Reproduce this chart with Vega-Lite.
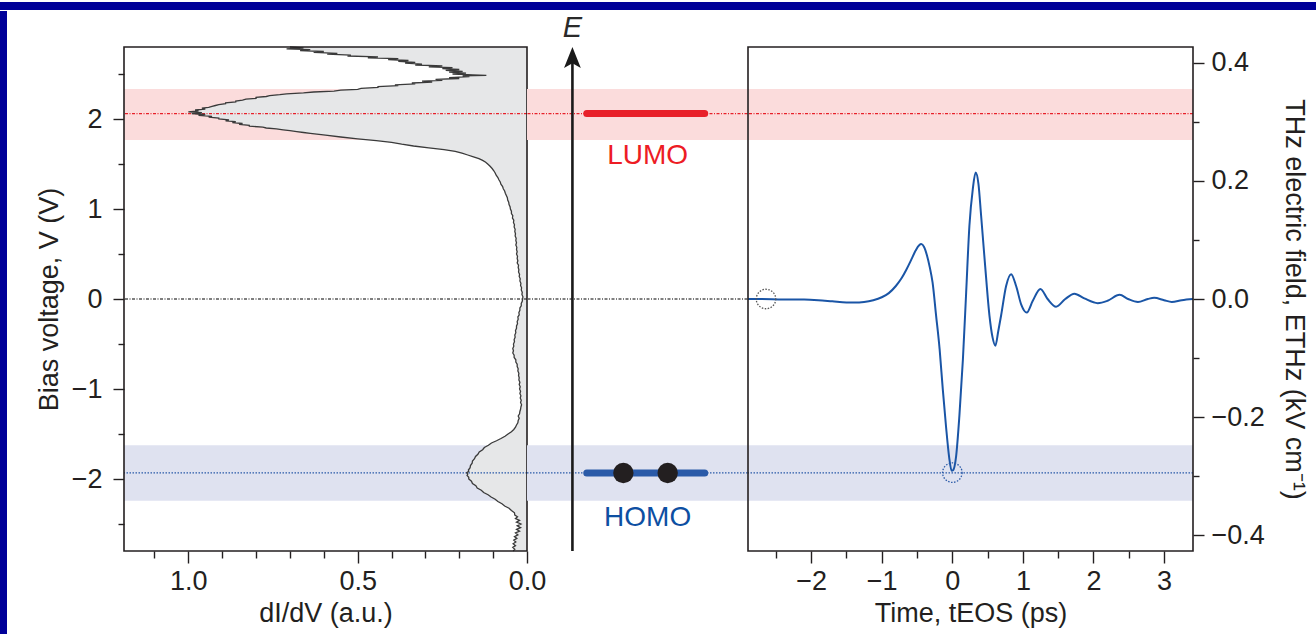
{
  "$schema": "https://vega.github.io/schema/vega-lite/v6.json",
  "background": "white",
  "padding": 0,
  "spacing": 0,
  "config": {
    "font": "Liberation Sans",
    "view": {"stroke": null},
    "axis": {
      "labelFont": "Liberation Sans", "titleFont": "Liberation Sans",
      "labelFontSize": 27, "titleFontSize": 27,
      "labelColor": "#231f20", "titleColor": "#231f20", "tickColor": "#231f20",
      "tickWidth": 1.4, "domain": false, "grid": false, "titleFontWeight": "normal",
      "labelFlush": false, "labelOverlap": false
    }
  },
  "datasets": {
    "bands": [
      {"level": "LUMO", "V": 1.767, "V2": 2.333},
      {"level": "HOMO", "V": -2.241, "V2": -1.626}
    ],
    "lines": [
      {"level": "LUMO", "V": 2.06},
      {"level": "HOMO", "V": -1.933},
      {"level": "zero", "V": 0}
    ],
    "states": [
      {"level": "LUMO", "V": 2.06, "start": 0.271, "end": 0.806, "label": "LUMO", "labelV": 1.585, "labelX": 0.547},
      {"level": "HOMO", "V": -1.933, "start": 0.271, "end": 0.806, "label": "HOMO", "labelV": -2.433, "labelX": 0.547}
    ],
    "electrons": [
      {"x": 0.437, "V": -1.933},
      {"x": 0.638, "V": -1.933}
    ],
    "energyAxis": [
      {"x": 0.206, "from": -2.8, "to": 2.63, "head": 2.683, "label": "E", "labelV": 2.83}
    ],
    "markers": [
      {"kind": "zero", "t": -2.64, "E": 0},
      {"kind": "HOMO", "t": 0, "E": -0.294}
    ],
    "spectrum": [
      {"V":2.800,"d":0.70},{"V":2.790,"d":0.66},{"V":2.780,"d":0.71},{"V":2.770,"d":0.64},{"V":2.760,"d":0.67},
      {"V":2.750,"d":0.60},{"V":2.740,"d":0.63},{"V":2.730,"d":0.56},{"V":2.720,"d":0.59},{"V":2.710,"d":0.52},
      {"V":2.700,"d":0.53},{"V":2.690,"d":0.44},{"V":2.680,"d":0.47},{"V":2.670,"d":0.38},{"V":2.660,"d":0.41},
      {"V":2.650,"d":0.35},{"V":2.640,"d":0.38},{"V":2.630,"d":0.33},{"V":2.620,"d":0.36},{"V":2.610,"d":0.31},
      {"V":2.600,"d":0.33},{"V":2.590,"d":0.25},{"V":2.580,"d":0.29},{"V":2.570,"d":0.22},{"V":2.560,"d":0.25},
      {"V":2.550,"d":0.20},{"V":2.540,"d":0.24},{"V":2.530,"d":0.19},{"V":2.520,"d":0.23},{"V":2.510,"d":0.18},
      {"V":2.500,"d":0.22},{"V":2.490,"d":0.16},{"V":2.485,"d":0.12},{"V":2.480,"d":0.19},{"V":2.470,"d":0.17},
      {"V":2.460,"d":0.23},{"V":2.450,"d":0.20},{"V":2.440,"d":0.27},{"V":2.430,"d":0.25},{"V":2.420,"d":0.31},
      {"V":2.410,"d":0.28},{"V":2.400,"d":0.34},{"V":2.390,"d":0.33},{"V":2.380,"d":0.39},{"V":2.370,"d":0.38},
      {"V":2.360,"d":0.44},{"V":2.350,"d":0.44},{"V":2.340,"d":0.49},{"V":2.330,"d":0.50},{"V":2.320,"d":0.55},
      {"V":2.310,"d":0.57},{"V":2.300,"d":0.63},{"V":2.290,"d":0.66},{"V":2.280,"d":0.71},{"V":2.270,"d":0.73},
      {"V":2.260,"d":0.76},{"V":2.250,"d":0.77},{"V":2.240,"d":0.80},{"V":2.230,"d":0.80},{"V":2.220,"d":0.83},
      {"V":2.210,"d":0.84},{"V":2.200,"d":0.86},{"V":2.190,"d":0.86},{"V":2.180,"d":0.89},{"V":2.170,"d":0.89},
      {"V":2.160,"d":0.91},{"V":2.150,"d":0.92},{"V":2.140,"d":0.93},{"V":2.130,"d":0.94},{"V":2.120,"d":0.96},
      {"V":2.110,"d":0.95},{"V":2.100,"d":0.98},{"V":2.090,"d":0.97},{"V":2.080,"d":1.00},{"V":2.070,"d":0.96},
      {"V":2.060,"d":0.99},{"V":2.050,"d":0.95},{"V":2.040,"d":0.97},{"V":2.030,"d":0.93},{"V":2.020,"d":0.94},
      {"V":2.010,"d":0.91},{"V":2.000,"d":0.91},{"V":1.990,"d":0.88},{"V":1.980,"d":0.89},{"V":1.970,"d":0.86},
      {"V":1.960,"d":0.87},{"V":1.950,"d":0.84},{"V":1.940,"d":0.85},{"V":1.930,"d":0.82},{"V":1.920,"d":0.82},
      {"V":1.910,"d":0.78},{"V":1.900,"d":0.77},{"V":1.890,"d":0.74},{"V":1.880,"d":0.72},{"V":1.870,"d":0.70},
      {"V":1.860,"d":0.68},{"V":1.850,"d":0.66},{"V":1.840,"d":0.64},{"V":1.820,"d":0.595},{"V":1.800,"d":0.55},
      {"V":1.780,"d":0.50},{"V":1.760,"d":0.445},{"V":1.740,"d":0.40},{"V":1.720,"d":0.37},{"V":1.700,"d":0.335},
      {"V":1.680,"d":0.29},{"V":1.660,"d":0.245},{"V":1.640,"d":0.212},{"V":1.620,"d":0.192},{"V":1.600,"d":0.175},
      {"V":1.580,"d":0.158},{"V":1.560,"d":0.142},{"V":1.540,"d":0.131},{"V":1.520,"d":0.122},{"V":1.500,"d":0.116},
      {"V":1.475,"d":0.109},{"V":1.450,"d":0.103},{"V":1.425,"d":0.098},{"V":1.400,"d":0.094},{"V":1.375,"d":0.091},
      {"V":1.350,"d":0.086},{"V":1.325,"d":0.083},{"V":1.300,"d":0.079},{"V":1.275,"d":0.077},{"V":1.250,"d":0.072},
      {"V":1.225,"d":0.070},{"V":1.200,"d":0.066},{"V":1.175,"d":0.064},{"V":1.150,"d":0.061},{"V":1.125,"d":0.058},
      {"V":1.100,"d":0.057},{"V":1.075,"d":0.054},{"V":1.050,"d":0.053},{"V":1.025,"d":0.050},{"V":1.000,"d":0.049},
      {"V":0.975,"d":0.046},{"V":0.950,"d":0.046},{"V":0.925,"d":0.042},{"V":0.900,"d":0.043},{"V":0.875,"d":0.039},
      {"V":0.850,"d":0.040},{"V":0.825,"d":0.037},{"V":0.800,"d":0.038},{"V":0.775,"d":0.035},{"V":0.750,"d":0.036},
      {"V":0.725,"d":0.034},{"V":0.700,"d":0.035},{"V":0.675,"d":0.032},{"V":0.650,"d":0.033},{"V":0.625,"d":0.031},
      {"V":0.600,"d":0.033},{"V":0.575,"d":0.030},{"V":0.550,"d":0.031},{"V":0.525,"d":0.029},{"V":0.500,"d":0.031},
      {"V":0.475,"d":0.028},{"V":0.450,"d":0.029},{"V":0.425,"d":0.027},{"V":0.400,"d":0.029},{"V":0.375,"d":0.025},
      {"V":0.350,"d":0.026},{"V":0.325,"d":0.024},{"V":0.300,"d":0.025},{"V":0.275,"d":0.022},{"V":0.250,"d":0.023},
      {"V":0.225,"d":0.020},{"V":0.200,"d":0.021},{"V":0.175,"d":0.018},{"V":0.150,"d":0.019},{"V":0.125,"d":0.016},
      {"V":0.100,"d":0.017},{"V":0.075,"d":0.014},{"V":0.050,"d":0.015},{"V":0.025,"d":0.012},{"V":0.000,"d":0.013},
      {"V":-0.025,"d":0.014},{"V":-0.050,"d":0.017},{"V":-0.075,"d":0.017},{"V":-0.100,"d":0.021},{"V":-0.125,"d":0.021},
      {"V":-0.150,"d":0.024},{"V":-0.175,"d":0.023},{"V":-0.200,"d":0.027},{"V":-0.225,"d":0.026},{"V":-0.250,"d":0.029},
      {"V":-0.275,"d":0.028},{"V":-0.300,"d":0.031},{"V":-0.325,"d":0.031},{"V":-0.350,"d":0.034},{"V":-0.375,"d":0.033},
      {"V":-0.400,"d":0.036},{"V":-0.425,"d":0.035},{"V":-0.450,"d":0.038},{"V":-0.475,"d":0.037},{"V":-0.500,"d":0.040},
      {"V":-0.525,"d":0.039},{"V":-0.550,"d":0.042},{"V":-0.575,"d":0.040},{"V":-0.600,"d":0.042},{"V":-0.625,"d":0.038},
      {"V":-0.650,"d":0.038},{"V":-0.675,"d":0.033},{"V":-0.700,"d":0.033},{"V":-0.725,"d":0.029},{"V":-0.750,"d":0.029},
      {"V":-0.775,"d":0.026},{"V":-0.800,"d":0.027},{"V":-0.825,"d":0.024},{"V":-0.850,"d":0.025},{"V":-0.875,"d":0.023},
      {"V":-0.900,"d":0.024},{"V":-0.925,"d":0.021},{"V":-0.950,"d":0.023},{"V":-0.975,"d":0.020},{"V":-1.000,"d":0.022},
      {"V":-1.025,"d":0.019},{"V":-1.050,"d":0.021},{"V":-1.075,"d":0.018},{"V":-1.100,"d":0.020},{"V":-1.125,"d":0.017},
      {"V":-1.150,"d":0.019},{"V":-1.175,"d":0.016},{"V":-1.200,"d":0.018},{"V":-1.225,"d":0.019},{"V":-1.250,"d":0.021},
      {"V":-1.275,"d":0.022},{"V":-1.300,"d":0.026},{"V":-1.325,"d":0.023},{"V":-1.350,"d":0.026},{"V":-1.375,"d":0.027},
      {"V":-1.400,"d":0.031},{"V":-1.425,"d":0.034},{"V":-1.450,"d":0.039},{"V":-1.475,"d":0.046},{"V":-1.500,"d":0.056},
      {"V":-1.525,"d":0.065},{"V":-1.550,"d":0.077},{"V":-1.575,"d":0.090},{"V":-1.600,"d":0.105},{"V":-1.625,"d":0.114},
      {"V":-1.650,"d":0.126},{"V":-1.675,"d":0.131},{"V":-1.700,"d":0.141},{"V":-1.725,"d":0.145},{"V":-1.750,"d":0.152},
      {"V":-1.775,"d":0.155},{"V":-1.800,"d":0.161},{"V":-1.825,"d":0.162},{"V":-1.850,"d":0.167},{"V":-1.875,"d":0.168},
      {"V":-1.900,"d":0.173},{"V":-1.915,"d":0.172},{"V":-1.930,"d":0.178},{"V":-1.945,"d":0.175},{"V":-1.960,"d":0.177},
      {"V":-1.980,"d":0.172},{"V":-2.000,"d":0.172},{"V":-2.025,"d":0.164},{"V":-2.050,"d":0.161},{"V":-2.075,"d":0.151},
      {"V":-2.100,"d":0.147},{"V":-2.125,"d":0.135},{"V":-2.150,"d":0.128},{"V":-2.175,"d":0.115},{"V":-2.200,"d":0.106},
      {"V":-2.225,"d":0.094},{"V":-2.250,"d":0.086},{"V":-2.275,"d":0.074},{"V":-2.300,"d":0.066},{"V":-2.325,"d":0.053},
      {"V":-2.350,"d":0.046},{"V":-2.375,"d":0.037},{"V":-2.400,"d":0.036},{"V":-2.420,"d":0.028},{"V":-2.440,"d":0.034},
      {"V":-2.460,"d":0.022},{"V":-2.480,"d":0.031},{"V":-2.500,"d":0.018},{"V":-2.520,"d":0.029},{"V":-2.540,"d":0.019},
      {"V":-2.560,"d":0.031},{"V":-2.580,"d":0.022},{"V":-2.600,"d":0.034},{"V":-2.620,"d":0.027},{"V":-2.640,"d":0.037},
      {"V":-2.660,"d":0.030},{"V":-2.680,"d":0.039},{"V":-2.700,"d":0.033},{"V":-2.720,"d":0.041},{"V":-2.740,"d":0.034},
      {"V":-2.760,"d":0.042},{"V":-2.780,"d":0.036},{"V":-2.800,"d":0.041}
    ],
    "wave": [
      {"t":-2.895,"E":0.0},{"t":-2.7,"E":0.0},{"t":-2.4,"E":-0.001},{"t":-2.1,"E":-0.001},{"t":-1.9,"E":-0.002},
      {"t":-1.7,"E":-0.004},{"t":-1.5,"E":-0.006},{"t":-1.39,"E":-0.006},{"t":-1.25,"E":-0.005},{"t":-1.12,"E":-0.002},
      {"t":-1.0,"E":0.003},{"t":-0.9,"E":0.01},{"t":-0.8,"E":0.022},{"t":-0.72,"E":0.035},{"t":-0.65,"E":0.05},
      {"t":-0.58,"E":0.067},{"t":-0.52,"E":0.082},{"t":-0.47,"E":0.091},{"t":-0.44,"E":0.093},{"t":-0.4,"E":0.088},
      {"t":-0.36,"E":0.074},{"t":-0.32,"E":0.054},{"t":-0.28,"E":0.028},{"t":-0.23,"E":-0.028},{"t":-0.18,"E":-0.085},
      {"t":-0.135,"E":-0.153},{"t":-0.09,"E":-0.215},{"t":-0.045,"E":-0.268},{"t":-0.01,"E":-0.291},{"t":0.01,"E":-0.29},
      {"t":0.054,"E":-0.266},{"t":0.1,"E":-0.198},{"t":0.15,"E":-0.102},{"t":0.196,"E":0.011},{"t":0.242,"E":0.124},
      {"t":0.29,"E":0.186},{"t":0.33,"E":0.214},{"t":0.37,"E":0.195},{"t":0.408,"E":0.141},{"t":0.465,"E":0.056},
      {"t":0.526,"E":-0.028},{"t":0.57,"E":-0.065},{"t":0.61,"E":-0.079},{"t":0.65,"E":-0.055},{"t":0.691,"E":-0.028},
      {"t":0.762,"E":0.022},{"t":0.833,"E":0.042},{"t":0.904,"E":0.022},{"t":0.975,"E":-0.009},{"t":1.055,"E":-0.023},
      {"t":1.14,"E":-0.003},{"t":1.248,"E":0.017},{"t":1.35,"E":0.0},{"t":1.47,"E":-0.013},{"t":1.6,"E":0.0},
      {"t":1.73,"E":0.009},{"t":1.87,"E":0.001},{"t":2.06,"E":-0.007},{"t":2.2,"E":-0.003},{"t":2.37,"E":0.007},
      {"t":2.49,"E":0.0},{"t":2.63,"E":-0.005},{"t":2.77,"E":0.0},{"t":2.86,"E":0.002},{"t":3.0,"E":-0.002},
      {"t":3.11,"E":-0.005},{"t":3.25,"E":-0.002},{"t":3.41,"E":0.0}
    ]
  },
  "vconcat": [
    {
      "width": 1316, "height": 8,
      "view": {"fill": "#000099", "stroke": null},
      "data": {"values": [{}]},
      "mark": {"type": "text", "text": ""}
    },
    {
      "spacing": 28,
      "hconcat": [
        {
          "width": 7, "height": 626,
          "view": {"fill": "#000099", "stroke": null},
          "data": {"values": [{}]},
          "mark": {"type": "text", "text": ""}
        },
        {
          "spacing": 0,
          "vconcat": [
            {
              "spacing": 0,
              "bounds": "flush",
              "hconcat": [
                {
                  "width": 403, "height": 29,
                  "data": {"values": [{}]},
                  "mark": {"type": "text", "text": ""}
                },
                {
                  "width": 220.5, "height": 29,
                  "data": {"name": "energyAxis"},
                  "mark": {"type": "text", "fontSize": 29, "fontStyle": "italic", "color": "#2a2a2a", "align": "center", "baseline": "alphabetic"},
                  "encoding": {
                    "x": {"field": "x", "type": "quantitative", "scale": {"domain": [0, 1], "nice": false, "zero": false}, "axis": null},
                    "y": {"field": "labelV", "type": "quantitative", "scale": {"domain": [2.8, 3.1222], "nice": false, "zero": false}, "axis": null},
                    "text": {"field": "label"}
                  }
                }
              ]
            },
            {
              "spacing": 0,
              "bounds": "flush",
              "hconcat": [
                {
                  "width": 403, "height": 504,
                  "resolve": {"axis": {"x": "independent", "y": "independent"}},
                  "layer": [
                    {
                      "data": {"name": "bands"},
                      "mark": {"type": "rect"},
                      "encoding": {
                        "y": {"field": "V", "type": "quantitative", "scale": {"domain": [-2.8, 2.8], "nice": false, "zero": false}, "axis": null},
                        "y2": {"field": "V2"},
                        "fill": {"field": "level", "type": "nominal", "scale": {"domain": ["LUMO", "HOMO"], "range": ["#fbdcdc", "#dfe2f0"]}, "legend": null}
                      }
                    },
                    {
                      "data": {"name": "spectrum"},
                      "mark": {"type": "area", "orient": "horizontal", "color": "#e6e7e8"},
                      "encoding": {
                        "x": {"field": "d", "type": "quantitative", "stack": null,
                          "scale": {"domain": [0, 1.19], "reverse": true, "nice": false, "zero": false},
                          "axis": {
                            "orient": "bottom", "title": "dI/dV (a.u.)",
                            "values": [0, 0.1, 0.2, 0.3, 0.4, 0.5, 0.6, 0.7, 0.8, 0.9, 1, 1.1],
                            "labelExpr": "abs(datum.value*2 - round(datum.value*2)) < 0.001 ? format(datum.value, '.1f') : ''",
                            "tickSize": {"condition": {"test": "abs(datum.value*2 - round(datum.value*2)) < 0.001", "value": 12}, "value": 7},
                            "labelPadding": 5, "titlePadding": 6
                          }
                        },
                        "y": {"field": "V", "type": "quantitative",
                          "scale": {"domain": [-2.8, 2.8], "nice": false, "zero": false},
                          "axis": {
                            "orient": "left", "title": "Bias voltage, V (V)",
                            "values": [-2.5, -2, -1.5, -1, -0.5, 0, 0.5, 1, 1.5, 2, 2.5],
                            "labelExpr": "datum.value % 1 === 0 ? format(datum.value, 'd') : ''",
                            "tickSize": {"condition": {"test": "datum.value % 1 === 0", "value": 11}, "value": 6},
                            "labelPadding": 11, "titlePadding": 8
                          }
                        }
                      }
                    },
                    {
                      "data": {"name": "lines"},
                      "mark": {"type": "rule", "strokeWidth": 1.3},
                      "encoding": {
                        "y": {"field": "V", "type": "quantitative", "axis": null},
                        "stroke": {"field": "level", "type": "nominal", "scale": {"domain": ["LUMO", "HOMO", "zero"], "range": ["#e8202a", "#2a5aa8", "#555555"]}, "legend": null},
                        "strokeDash": {"field": "level", "type": "nominal", "scale": {"domain": ["LUMO", "HOMO", "zero"], "range": [[3, 1.5, 1, 1.5], [1.5, 1.5], [3, 1.5, 1, 1.5]]}, "legend": null}
                      }
                    },
                    {
                      "data": {"name": "spectrum"},
                      "mark": {"type": "line", "orient": "horizontal", "color": "#3a3a3a", "strokeWidth": 1.3},
                      "encoding": {
                        "x": {"field": "d", "type": "quantitative", "axis": null},
                        "y": {"field": "V", "type": "quantitative", "axis": null},
                        "order": {"field": "V", "type": "quantitative"}
                      }
                    },
                    {
                      "data": {"values": [{}]},
                      "mark": {"type": "rect", "filled": false, "stroke": "#231f20", "strokeWidth": 1.6},
                      "encoding": {
                        "x": {"datum": 0, "type": "quantitative", "axis": null},
                        "x2": {"datum": 1.19},
                        "y": {"datum": -2.8, "type": "quantitative", "axis": null},
                        "y2": {"datum": 2.8}
                      }
                    }
                  ]
                },
                {
                  "width": 220.5, "height": 504,
                  "layer": [
                    {
                      "data": {"name": "bands"},
                      "mark": {"type": "rect"},
                      "encoding": {
                        "y": {"field": "V", "type": "quantitative", "scale": {"domain": [-2.8, 2.8], "nice": false, "zero": false}, "axis": null},
                        "y2": {"field": "V2"},
                        "fill": {"field": "level", "type": "nominal", "scale": {"domain": ["LUMO", "HOMO"], "range": ["#fbdcdc", "#dfe2f0"]}, "legend": null}
                      }
                    },
                    {
                      "data": {"name": "lines"},
                      "mark": {"type": "rule", "strokeWidth": 1.3},
                      "encoding": {
                        "y": {"field": "V", "type": "quantitative", "axis": null},
                        "stroke": {"field": "level", "type": "nominal", "scale": {"domain": ["LUMO", "HOMO", "zero"], "range": ["#e8202a", "#2a5aa8", "#555555"]}, "legend": null},
                        "strokeDash": {"field": "level", "type": "nominal", "scale": {"domain": ["LUMO", "HOMO", "zero"], "range": [[3, 1.5, 1, 1.5], [1.5, 1.5], [3, 1.5, 1, 1.5]]}, "legend": null}
                      }
                    },
                    {
                      "data": {"name": "energyAxis"},
                      "mark": {"type": "rule", "strokeWidth": 2.6, "color": "#1a1a1a"},
                      "encoding": {
                        "x": {"field": "x", "type": "quantitative", "scale": {"domain": [0, 1], "nice": false, "zero": false}, "axis": null},
                        "y": {"field": "from", "type": "quantitative", "axis": null},
                        "y2": {"field": "to"}
                      }
                    },
                    {
                      "data": {"name": "energyAxis"},
                      "mark": {"type": "point", "shape": "M0,-1L0.8,1L0,0.55L-0.8,1Z", "size": 441, "filled": true, "color": "#1a1a1a", "opacity": 1},
                      "encoding": {
                        "x": {"field": "x", "type": "quantitative", "axis": null},
                        "y": {"field": "head", "type": "quantitative", "axis": null}
                      }
                    },
                    {
                      "data": {"name": "states"},
                      "mark": {"type": "rule", "strokeWidth": 7, "strokeCap": "round"},
                      "encoding": {
                        "x": {"field": "start", "type": "quantitative", "axis": null},
                        "x2": {"field": "end"},
                        "y": {"field": "V", "type": "quantitative", "axis": null},
                        "stroke": {"field": "level", "type": "nominal", "scale": {"domain": ["LUMO", "HOMO", "zero"], "range": ["#ed1c24", "#0d4fa2", "#555555"]}, "legend": null}
                      }
                    },
                    {
                      "data": {"name": "electrons"},
                      "mark": {"type": "point", "shape": "circle", "size": 415, "filled": true, "color": "#231f20", "opacity": 1},
                      "encoding": {
                        "x": {"field": "x", "type": "quantitative", "axis": null},
                        "y": {"field": "V", "type": "quantitative", "axis": null}
                      }
                    },
                    {
                      "data": {"name": "states"},
                      "mark": {"type": "text", "fontSize": 28, "align": "center", "baseline": "middle"},
                      "encoding": {
                        "x": {"field": "labelX", "type": "quantitative", "axis": null},
                        "y": {"field": "labelV", "type": "quantitative", "axis": null},
                        "text": {"field": "label"},
                        "color": {"field": "level", "type": "nominal", "scale": {"domain": ["LUMO", "HOMO"], "range": ["#ed1c24", "#0d4fa2"]}, "legend": null}
                      }
                    }
                  ]
                },
                {
                  "width": 445, "height": 504,
                  "resolve": {"scale": {"y": "independent"}, "axis": {"x": "independent", "y": "independent"}},
                  "layer": [
                    {
                      "data": {"name": "bands"},
                      "mark": {"type": "rect"},
                      "encoding": {
                        "y": {"field": "V", "type": "quantitative", "scale": {"domain": [-2.8, 2.8], "nice": false, "zero": false}, "axis": null},
                        "y2": {"field": "V2"},
                        "fill": {"field": "level", "type": "nominal", "scale": {"domain": ["LUMO", "HOMO"], "range": ["#fbdcdc", "#dfe2f0"]}, "legend": null}
                      }
                    },
                    {
                      "data": {"name": "lines"},
                      "transform": [{"filter": "datum.level !== 'zero'"}],
                      "mark": {"type": "rule", "strokeWidth": 1.3},
                      "encoding": {
                        "y": {"field": "V", "type": "quantitative", "scale": {"domain": [-2.8, 2.8], "nice": false, "zero": false}, "axis": null},
                        "stroke": {"field": "level", "type": "nominal", "scale": {"domain": ["LUMO", "HOMO", "zero"], "range": ["#e8202a", "#2a5aa8", "#555555"]}, "legend": null},
                        "strokeDash": {"field": "level", "type": "nominal", "scale": {"domain": ["LUMO", "HOMO", "zero"], "range": [[3, 1.5, 1, 1.5], [1.5, 1.5], [3, 1.5, 1, 1.5]]}, "legend": null}
                      }
                    },
                    {
                      "data": {"values": [{}]},
                      "mark": {"type": "rule", "strokeWidth": 1.3, "color": "#555555", "strokeDash": [3, 1.5, 1, 1.5]},
                      "encoding": {
                        "x": {"datum": -2.895, "type": "quantitative", "axis": null},
                        "x2": {"datum": -2.79},
                        "y": {"datum": 0, "type": "quantitative", "scale": {"domain": [-2.8, 2.8], "nice": false, "zero": false}, "axis": null}
                      }
                    },
                    {
                      "data": {"name": "wave"},
                      "mark": {"type": "line", "color": "#1a55a6", "strokeWidth": 2, "interpolate": "monotone"},
                      "encoding": {
                        "x": {"field": "t", "type": "quantitative",
                          "scale": {"domain": [-2.895, 3.41], "nice": false, "zero": false},
                          "axis": {
                            "orient": "bottom", "title": "Time, tEOS (ps)",
                            "values": [-2.5, -2, -1.5, -1, -0.5, 0, 0.5, 1, 1.5, 2, 2.5, 3],
                            "labelExpr": "datum.value % 1 === 0 ? format(datum.value, 'd') : ''",
                            "tickSize": {"condition": {"test": "datum.value % 1 === 0", "value": 12}, "value": 7},
                            "labelPadding": 5, "titlePadding": 6
                          }
                        },
                        "y": {"field": "E", "type": "quantitative",
                          "scale": {"domain": [-0.4267, 0.4267], "nice": false, "zero": false},
                          "axis": {
                            "orient": "right", "title": "THz electric field, ETHz (kV cm⁻¹)", "titleAngle": 90,
                            "values": [-0.4, -0.3, -0.2, -0.1, 0, 0.1, 0.2, 0.3, 0.4],
                            "labelExpr": "abs(datum.value*5 - round(datum.value*5)) < 0.001 ? format(datum.value, '.1f') : ''",
                            "tickSize": {"condition": {"test": "abs(datum.value*5 - round(datum.value*5)) < 0.001", "value": 11}, "value": 6},
                            "labelPadding": 7, "titlePadding": 15
                          }
                        }
                      }
                    },
                    {
                      "data": {"name": "markers"},
                      "mark": {"type": "point", "shape": "circle", "size": 380, "filled": false, "strokeWidth": 1.3, "strokeDash": [1.5, 1.5], "opacity": 1},
                      "encoding": {
                        "x": {"field": "t", "type": "quantitative", "axis": null},
                        "y": {"field": "E", "type": "quantitative", "scale": {"domain": [-0.4267, 0.4267], "nice": false, "zero": false}, "axis": null},
                        "stroke": {"field": "kind", "type": "nominal", "scale": {"domain": ["zero", "HOMO"], "range": ["#777777", "#2a5aa8"]}, "legend": null}
                      }
                    },
                    {
                      "data": {"values": [{}]},
                      "mark": {"type": "rect", "filled": false, "stroke": "#231f20", "strokeWidth": 1.6},
                      "encoding": {
                        "x": {"datum": -2.895, "type": "quantitative", "axis": null},
                        "x2": {"datum": 3.41},
                        "y": {"datum": 0, "type": "quantitative", "scale": {"domain": [0, 1], "nice": false, "zero": false}, "axis": null},
                        "y2": {"datum": 1}
                      }
                    }
                  ]
                }
              ]
            }
          ]
        }
      ]
    }
  ]
}
